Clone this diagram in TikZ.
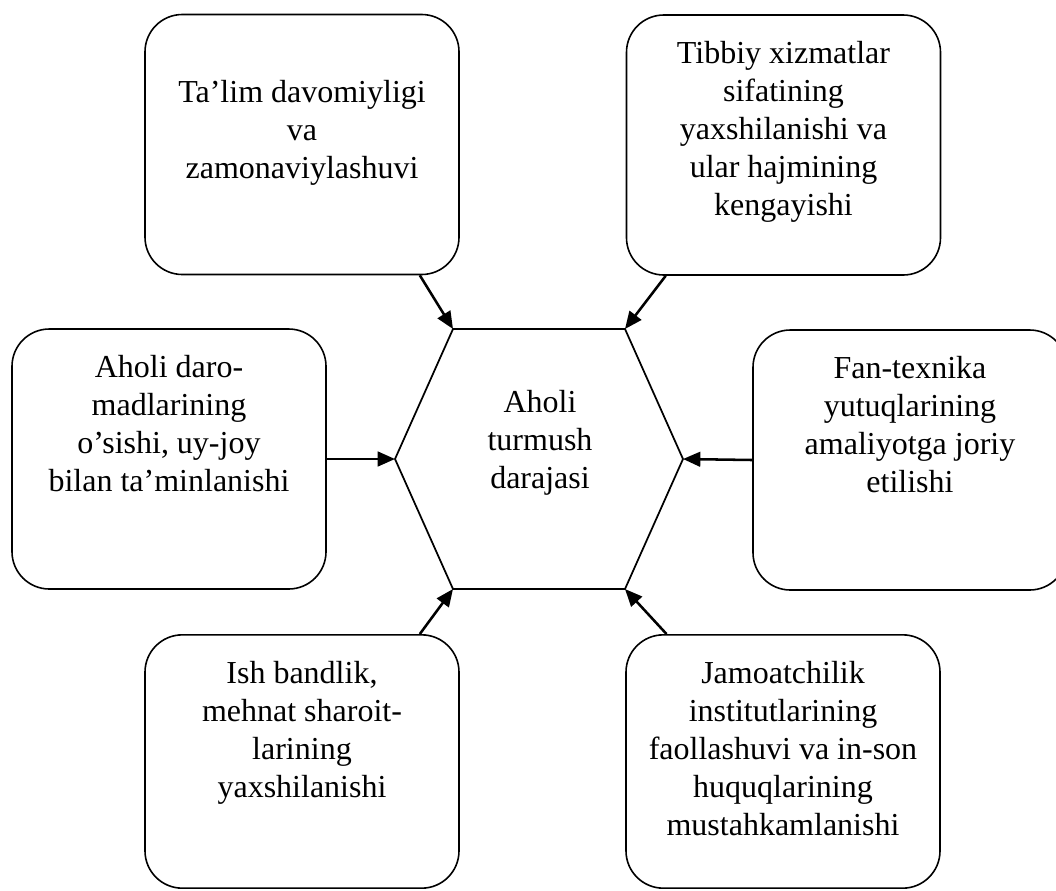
\documentclass[tikz,border=0pt]{standalone}
\usepackage{fontspec}
\setmainfont{Liberation Serif}
\usetikzlibrary{arrows.meta,positioning}

\begin{document}
\begin{tikzpicture}[x=0.75pt, y=-0.75pt, node distance=20pt, every node/.style={font=\fontsize{24pt}{28.5pt}\selectfont}]
\tikzstyle{factor}=[draw, line width=1.2pt, rounded corners=28pt, minimum width=235.5pt, minimum height=195pt, inner sep=0pt]
\tikzstyle{caption}=[align=center, inner sep=0pt]
\tikzstyle{link}=[-{Triangle[length=13pt,width=11pt]}, line width=1.9pt]
\clip (0,0) rectangle (1056,890);
% the six factor boxes
\node[factor] (talim) at (302,144.5) {};
\node[factor] (tibbiy) at (783.5,145) {};
\node[factor] (daromad) at (169,459) {};
\node[factor] (fan) at (910,460) {};
\node[factor, minimum height=190pt] (ish) at (302,761.5) {};
\node[factor, minimum height=190pt] (jamoat) at (783,761.5) {};
\node[caption, below=50pt of talim.north] (talimtxt) {Ta’lim davomiyligi\\va\\zamonaviylashuvi};
\node[caption, below=of tibbiy.north] (tibbiytxt) {Tibbiy xizmatlar\\sifatining\\yaxshilanishi va\\ular hajmining\\kengayishi};
\node[caption, below=of daromad.north] (daromadtxt) {Aholi daro-\\madlarining\\o’sishi, uy-joy\\bilan ta’minlanishi};
\node[caption, below=of fan.north] (fantxt) {Fan-texnika\\yutuqlarining\\amaliyotga joriy\\etilishi};
\node[caption, below=of ish.north] (ishtxt) {Ish bandlik,\\mehnat sharoit-\\larining\\yaxshilanishi};
\node[caption, below=of jamoat.north] (jamoattxt) {Jamoatchilik\\institutlarining\\faollashuvi va in-son\\huquqlarining\\mustahkamlanishi};
% central hexagon
\coordinate (hTL) at (453,329);
\coordinate (hTR) at (625,329);
\coordinate (hR) at (683,459);
\coordinate (hBR) at (625,589);
\coordinate (hBL) at (453,589);
\coordinate (hL) at (395,459);
\draw[line width=1.3pt] (hTL) -- (hTR) -- (hR) -- (hBR) -- (hBL) -- (hL) -- cycle;
\node[caption, anchor=north] (core) at (540,390) {Aholi\\turmush\\darajasi};
\draw[link] ([xshift=-30pt]talim.south east) -- (hTL);
\draw[link] ([xshift=30pt]tibbiy.south west) -- (hTR);
\draw[link] (daromad.east) -- (hL);
\draw[link] (fan.west) -- (hR);
\draw[link] ([xshift=-30pt]ish.north east) -- (hBL);
\draw[link] ([xshift=31pt]jamoat.north west) -- (hBR);
\end{tikzpicture}
\end{document}
